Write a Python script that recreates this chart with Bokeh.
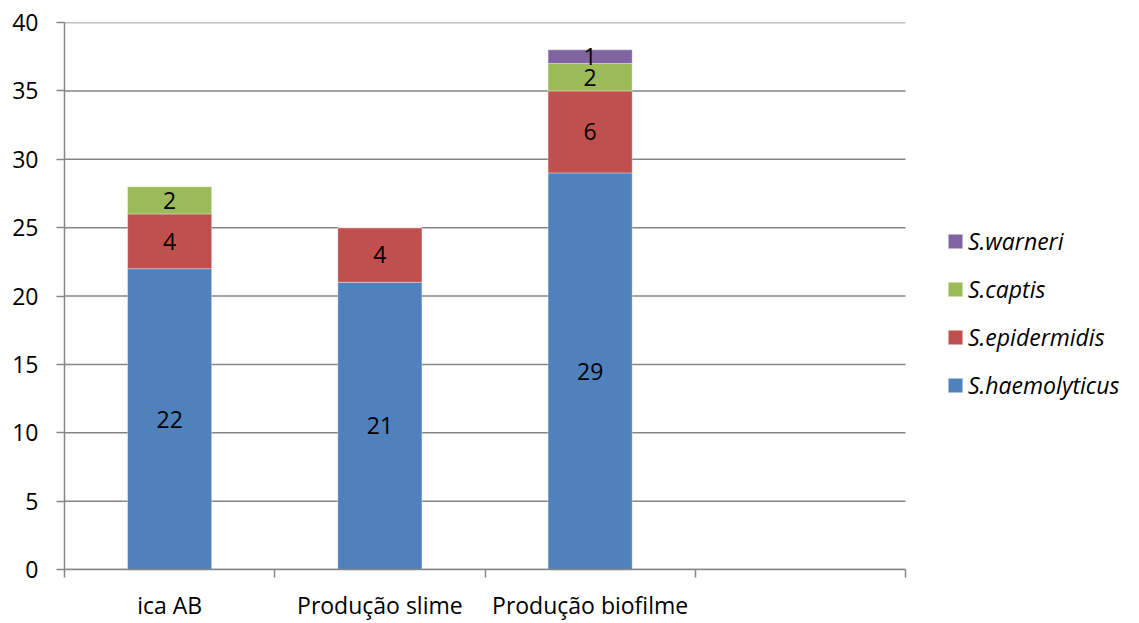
from bokeh.plotting import figure
from bokeh.models import (ColumnDataSource, FixedTicker, Legend, LegendItem,
                          Range1d, LinearAxis)
from bokeh.core.properties import value
from bokeh.embed import file_html
from bokeh.resources import INLINE

# Isolate counts per test, stacked by species
categories = ["ica AB", "Produção slime", "Produção biofilme"]
species = ["S.haemolyticus", "S.epidermidis", "S.captis", "S.warneri"]
haemolyticus = [22, 21, 29]
epidermidis = [4, 4, 6]
captis = [2, 0, 2]
warneri = [0, 0, 1]
y_ticks = [0, 5, 10, 15, 20, 25, 30, 35, 40]
n_slots = 4  # category slots on the axis (last one left empty)

colors = ["#4F81BD", "#C0504D", "#9BBB59", "#8064A2"]
series = [haemolyticus, epidermidis, captis, warneri]

FONT = "Open Sans"
FSIZE = "23px"
GRID = "#868686"

W, H = 1139, 623
LEFT, PLOT_RIGHT, TOP, BOTTOM = 64, 905, 22, 50
# the frame runs to the right edge so the legend can sit beside the bars;
# the axis and gridlines stop at the last category slot
x_end = n_slots * (W - LEFT) / (PLOT_RIGHT - LEFT)

p = figure(width=W, height=H, output_backend="svg", toolbar_location=None,
           x_range=Range1d(0, x_end), y_range=Range1d(0, 40),
           min_border_left=LEFT, min_border_right=0, min_border_top=TOP,
           min_border_bottom=BOTTOM, x_axis_type=None, y_axis_type=None)
p.outline_line_color = None
p.background_fill_color = "white"
p.border_fill_color = "white"
p.xgrid.visible = False
p.ygrid.visible = False

# horizontal gridlines across the category slots only
p.segment(x0=[0] * len(y_ticks), x1=[n_slots] * len(y_ticks),
          y0=y_ticks, y1=y_ticks, line_color=GRID, line_width=1.5)

xs = [i + 0.5 for i in range(len(categories))]

renderers = []
bottoms = [0] * len(categories)
label_x, label_y, label_t = [], [], []
for name, vals, col in zip(species, series, colors):
    tops = [b + v for b, v in zip(bottoms, vals)]
    src = ColumnDataSource(dict(x=xs, bottom=bottoms, top=tops))
    r = p.vbar(x="x", bottom="bottom", top="top", width=0.4, source=src,
               fill_color=col, line_color="white", line_alpha=0.35,
               line_width=1)
    renderers.append((name, r))
    for x, b, v in zip(xs, bottoms, vals):
        if v > 0:
            label_x.append(x)
            label_y.append(b + v / 2)
            label_t.append(str(v))
    bottoms = tops

p.text(x=label_x, y=label_y, text=label_t, text_align="center",
       text_baseline="middle", text_font=value(FONT), text_font_size=FSIZE,
       text_color="black")

# y axis
yaxis = LinearAxis(ticker=FixedTicker(ticks=y_ticks))
yaxis.axis_line_color = GRID
yaxis.axis_line_width = 1.5
yaxis.major_tick_line_color = GRID
yaxis.major_tick_line_width = 1.5
yaxis.major_tick_out = 8
yaxis.major_tick_in = 0
yaxis.minor_tick_line_color = None
yaxis.major_label_standoff = 18
yaxis.major_label_text_font = FONT
yaxis.major_label_text_font_size = FSIZE
yaxis.major_label_text_color = "black"
p.add_layout(yaxis, "left")

# x axis: labels at category centres, ticks at slot boundaries
xaxis = LinearAxis(ticker=FixedTicker(ticks=xs,
                                      minor_ticks=list(range(n_slots + 1))),
                   bounds=(0, n_slots))
xaxis.major_label_overrides = {x: c for x, c in zip(xs, categories)}
xaxis.axis_line_color = GRID
xaxis.axis_line_width = 1.5
xaxis.major_tick_line_color = None
xaxis.minor_tick_line_color = GRID
xaxis.minor_tick_line_width = 1.5
xaxis.minor_tick_out = 8
xaxis.minor_tick_in = 0
xaxis.major_label_standoff = 11
xaxis.major_label_text_font = FONT
xaxis.major_label_text_font_size = FSIZE
xaxis.major_label_text_color = "black"
p.add_layout(xaxis, "below")

items = [LegendItem(label=n, renderers=[r]) for n, r in reversed(renderers)]
legend = Legend(items=items, location=(946 - LEFT, 168), orientation="vertical",
                label_text_font=FONT, label_text_font_style="italic",
                label_text_font_size=FSIZE, label_text_color="black",
                glyph_width=18, glyph_height=18, spacing=16,
                label_standoff=4, border_line_color=None,
                background_fill_alpha=0, padding=0, margin=0)
p.add_layout(legend, "center")

open("out.html", "w").write(file_html(p, INLINE))
